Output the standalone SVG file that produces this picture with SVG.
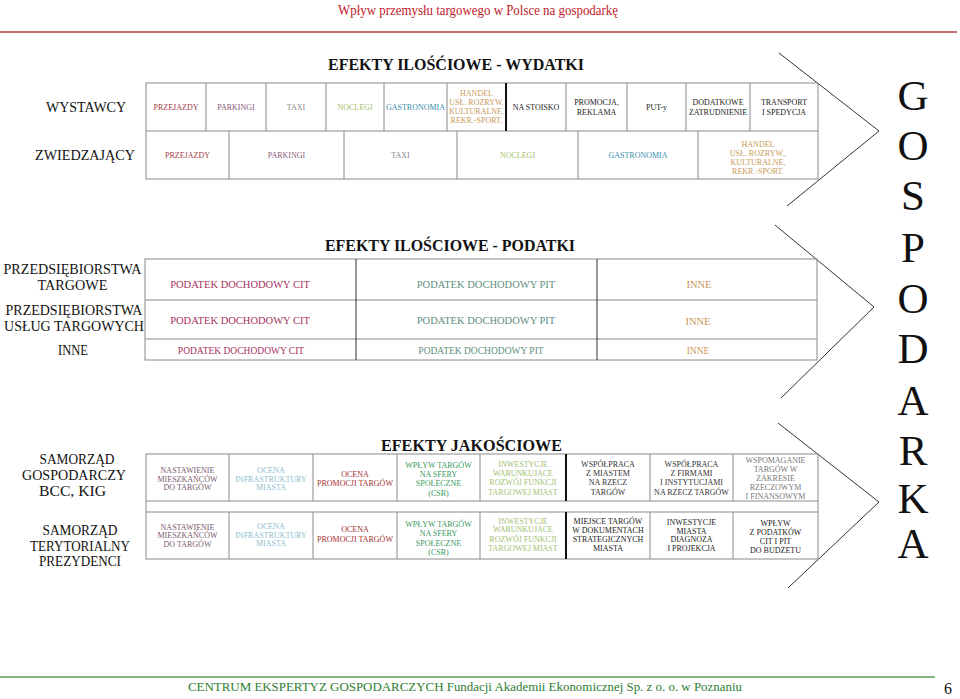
<svg xmlns="http://www.w3.org/2000/svg" width="960" height="699" viewBox="0 0 960 699">
<style>
text{font-family:"Liberation Serif","Times New Roman",serif;text-anchor:middle}
.hd{font-size:14px;fill:#c0202a}
.ft{font-size:13px;fill:#2e7d32}
.tt{font-size:16px;font-weight:bold;fill:#111}
.lb{font-size:14.5px;fill:#111}
.big{font-size:43px;fill:#111}
.c{font-size:8px}
.p{font-size:10.5px}
.grid{fill:none;stroke:#8a8a8a;stroke-width:1}
.gl{stroke:#8a8a8a;stroke-width:1}
.dk{stroke:#333;stroke-width:1}
.thick{stroke:#111;stroke-width:2}
.chev{fill:none;stroke:#333;stroke-width:1}
.mar{fill:#a33a45}.mau{fill:#8a5a7a}.gry{fill:#888}.lgr{fill:#9fbf68}.tea{fill:#3a90b0}.tan{fill:#c89a5a}.blk{fill:#222}
.cit{fill:#a8325e}.pit{fill:#5e9080}.inn{fill:#c8965a}
.nas{fill:#7a5a6e}.inf{fill:#8ec0d0}.opr{fill:#a03030}.csr{fill:#3a9a60}.inw{fill:#a0c070}.dg{fill:#333}.mg{fill:#777}
</style>
<defs>
<polyline id="chevron" class="chev" points="0,0 100,78 8,153"/>
</defs>

<g id="header">
<text class="hd" x="478" y="14.5" textLength="280" lengthAdjust="spacingAndGlyphs">Wpływ przemysłu targowego w Polsce na gospodarkę</text>
<line x1="0" y1="32" x2="957" y2="32" stroke="#c87070" stroke-width="2"/>
</g>

<g id="footer">
<line x1="0" y1="677" x2="935" y2="677" stroke="#5a9a5a" stroke-width="1.5"/>
<text class="ft" x="465" y="691" textLength="554" lengthAdjust="spacingAndGlyphs">CENTRUM EKSPERTYZ GOSPODARCZYCH Fundacji Akademii Ekonomicznej Sp. z o. o. w Poznaniu</text>
<text x="948" y="694" style="font-size:16px;fill:#111">6</text>
</g>

<g id="titles">
<text class="tt" x="456" y="70" textLength="256" lengthAdjust="spacingAndGlyphs">EFEKTY ILOŚĆIOWE - WYDATKI</text>
<text class="tt" x="450" y="250.5" textLength="250" lengthAdjust="spacingAndGlyphs">EFEKTY ILOŚCIOWE - PODATKI</text>
<text class="tt" x="471.5" y="450.5" textLength="181" lengthAdjust="spacingAndGlyphs">EFEKTY  JAKOŚCIOWE</text>
</g>

<g id="labels">
<g id="lbl-wystawcy"><text class="lb" x="86" y="112" textLength="80" lengthAdjust="spacingAndGlyphs">WYSTAWCY</text></g>
<g id="lbl-zwiedzajacy"><text class="lb" x="85" y="160" textLength="100" lengthAdjust="spacingAndGlyphs">ZWIEDZAJĄCY</text></g>
<g id="lbl-targowe"><text class="lb" x="72.5" y="273.5" textLength="138" lengthAdjust="spacingAndGlyphs">PRZEDSIĘBIORSTWA</text><text class="lb" x="72.5" y="289.5" textLength="70" lengthAdjust="spacingAndGlyphs">TARGOWE</text></g>
<g id="lbl-uslug"><text class="lb" x="74" y="314.5" textLength="137" lengthAdjust="spacingAndGlyphs">PRZEDSIĘBIORSTWA</text><text class="lb" x="74" y="330.5" textLength="140" lengthAdjust="spacingAndGlyphs">USŁUG TARGOWYCH</text></g>
<g id="lbl-inne"><text class="lb" x="73" y="355" textLength="30" lengthAdjust="spacingAndGlyphs">INNE</text></g>
<g id="lbl-samgosp"><text class="lb" x="77" y="463.5" textLength="75" lengthAdjust="spacingAndGlyphs">SAMORZĄD</text><text class="lb" x="74" y="479.5" textLength="104" lengthAdjust="spacingAndGlyphs">GOSPODARCZY</text><text class="lb" x="72.5" y="495.5" textLength="67" lengthAdjust="spacingAndGlyphs">BCC, KIG</text></g>
<g id="lbl-samter"><text class="lb" x="80" y="534.5" textLength="75" lengthAdjust="spacingAndGlyphs">SAMORZĄD</text><text class="lb" x="80" y="550.5" textLength="100" lengthAdjust="spacingAndGlyphs">TERYTORIALNY</text><text class="lb" x="80" y="566" textLength="82" lengthAdjust="spacingAndGlyphs">PREZYDENCI</text></g>
</g>

<g id="gospodarka">
<text class="big" x="913" y="110">G</text>
<text class="big" x="913" y="159.5">O</text>
<text class="big" x="913" y="209.5">S</text>
<text class="big" x="913" y="261.5">P</text>
<text class="big" x="913" y="312.5">O</text>
<text class="big" x="913" y="363">D</text>
<text class="big" x="913" y="415">A</text>
<text class="big" x="913" y="465">R</text>
<text class="big" x="913" y="513">K</text>
<text class="big" x="913" y="558">A</text>
</g>

<g id="connectors">
<use href="#chevron" transform="translate(779,53)"/>
<polyline class="chev" points="775,225 874,307 781,398"/>
<polyline class="chev" points="778,423 879,502 788,588"/>
</g>

<g id="table-wydatki">
<rect class="grid" x="146" y="83" width="672" height="96"/>
<line class="gl" x1="146" y1="131" x2="818" y2="131"/>
<g class="gl">
<line x1="206" y1="83" x2="206" y2="131"/><line x1="266" y1="83" x2="266" y2="131"/><line x1="326" y1="83" x2="326" y2="131"/><line x1="384" y1="83" x2="384" y2="131"/><line x1="447" y1="83" x2="447" y2="131"/><line x1="566" y1="83" x2="566" y2="131"/><line x1="627" y1="83" x2="627" y2="131"/><line x1="686" y1="83" x2="686" y2="131"/><line x1="750" y1="83" x2="750" y2="131"/>
<line x1="229" y1="131" x2="229" y2="179"/><line x1="344" y1="131" x2="344" y2="179"/><line x1="457" y1="131" x2="457" y2="179"/><line x1="578" y1="131" x2="578" y2="179"/><line x1="698" y1="131" x2="698" y2="179"/>
</g>
<line class="thick" x1="506" y1="83" x2="506" y2="131"/>
<g id="w-przejazdy"><text class="c mar" x="176" y="110">PRZEJAZDY</text></g>
<g id="w-parkingi"><text class="c mau" x="236" y="110">PARKINGI</text></g>
<g id="w-taxi"><text class="c gry" x="296" y="110">TAXI</text></g>
<g id="w-noclegi"><text class="c lgr" x="355" y="110">NOCLEGI</text></g>
<g id="w-gastronomia"><text class="c tea" x="415.5" y="110">GASTRONOMIA</text></g>
<g id="w-handel"><text class="c tan" x="476.5"><tspan x="476.5" y="96">HANDEL</tspan><tspan x="476.5" y="105">USŁ. ROZRYW.</tspan><tspan x="476.5" y="114">KULTURALNE.</tspan><tspan x="476.5" y="123">REKR.-SPORT.</tspan></text></g>
<g id="w-stoisko"><text class="c blk" x="536" y="110">NA STOISKO</text></g>
<g id="w-promocja"><text class="c blk"><tspan x="596.5" y="105">PROMOCJA,</tspan><tspan x="596.5" y="114.5">REKLAMA</tspan></text></g>
<g id="w-puty"><text class="c blk" x="656.5" y="110">PUT-y</text></g>
<g id="w-dodatkowe"><text class="c blk"><tspan x="718" y="105">DODATKOWE</tspan><tspan x="718" y="114.5">ZATRUDNIENIE</tspan></text></g>
<g id="w-transport"><text class="c blk"><tspan x="784" y="105">TRANSPORT</tspan><tspan x="784" y="114.5">I SPEDYCJA</tspan></text></g>
<g id="z-przejazdy"><text class="c mar" x="187.5" y="158">PRZEJAZDY</text></g>
<g id="z-parkingi"><text class="c mau" x="286.5" y="158">PARKINGI</text></g>
<g id="z-taxi"><text class="c gry" x="400.5" y="158">TAXI</text></g>
<g id="z-noclegi"><text class="c lgr" x="517.5" y="158">NOCLEGI</text></g>
<g id="z-gastronomia"><text class="c tea" x="638" y="158">GASTRONOMIA</text></g>
<g id="z-handel"><text class="c tan"><tspan x="758" y="147">HANDEL</tspan><tspan x="758" y="156">USŁ. ROZRYW.,</tspan><tspan x="758" y="165">KULTURALNE,</tspan><tspan x="758" y="174">REKR.-SPORT.</tspan></text></g>
</g>

<g id="table-podatki">
<rect class="grid" x="145" y="259" width="672" height="101"/>
<line class="gl" x1="145" y1="300" x2="817" y2="300"/>
<line class="gl" x1="145" y1="339" x2="817" y2="339"/>
<line class="dk" x1="356" y1="259" x2="356" y2="360"/>
<line class="dk" x1="597" y1="259" x2="597" y2="360"/>
<g id="pt-cit"><text class="p cit" x="240" y="288">PODATEK DOCHODOWY CIT</text></g>
<g id="pt-pit"><text class="p pit" x="486" y="288">PODATEK DOCHODOWY PIT</text></g>
<g id="pt-inne"><text class="p inn" x="699" y="288">INNE</text></g>
<g id="pu-cit"><text class="p cit" x="240" y="324">PODATEK DOCHODOWY CIT</text></g>
<g id="pu-pit"><text class="p pit" x="486" y="324">PODATEK DOCHODOWY PIT</text></g>
<g id="pu-inne"><text class="p inn" x="698" y="325">INNE</text></g>
<g id="pi-cit"><text class="p cit" x="241" y="354" style="font-size:9.5px">PODATEK DOCHODOWY CIT</text></g>
<g id="pi-pit"><text class="p pit" x="481" y="354" style="font-size:9.5px">PODATEK DOCHODOWY PIT</text></g>
<g id="pi-inne"><text class="p inn" x="698" y="354" style="font-size:9.5px">INNE</text></g>
</g>

<g id="table-jakosciowe">
<rect class="grid" x="146" y="454" width="672" height="105"/>
<line class="gl" x1="146" y1="501" x2="818" y2="501"/>
<line class="gl" x1="146" y1="512" x2="818" y2="512"/>
<g class="gl">
<line x1="229" y1="454" x2="229" y2="501"/><line x1="313" y1="454" x2="313" y2="501"/><line x1="397" y1="454" x2="397" y2="501"/><line x1="480" y1="454" x2="480" y2="501"/><line x1="650" y1="454" x2="650" y2="501"/><line x1="733" y1="454" x2="733" y2="501"/>
<line x1="229" y1="512" x2="229" y2="559"/><line x1="313" y1="512" x2="313" y2="559"/><line x1="397" y1="512" x2="397" y2="559"/><line x1="480" y1="512" x2="480" y2="559"/><line x1="650" y1="512" x2="650" y2="559"/><line x1="733" y1="512" x2="733" y2="559"/>
</g>
<line class="thick" x1="566" y1="454" x2="566" y2="501"/>
<line class="thick" x1="566" y1="512" x2="566" y2="559"/>

<g id="g-nastawienie"><text class="c nas"><tspan x="187.5" y="473">NASTAWIENIE</tspan><tspan x="187.5" y="481.7">MIESZKAŃCÓW</tspan><tspan x="187.5" y="490.3">DO TARGÓW</tspan></text></g>
<g id="g-infra"><text class="c inf"><tspan x="271" y="473">OCENA</tspan><tspan x="271" y="481.7">INFRASTRUKTURY</tspan><tspan x="271" y="490.3">MIASTA</tspan></text></g>
<g id="g-promocji"><text class="c opr"><tspan x="355" y="477.3">OCENA</tspan><tspan x="355" y="486.3">PROMOCJI TARGÓW</tspan></text></g>
<g id="g-csr"><text class="c csr"><tspan x="438.5" y="468">WPŁYW TARGÓW</tspan><tspan x="438.5" y="477.3">NA SFERY</tspan><tspan x="438.5" y="486.3">SPOŁECZNE</tspan><tspan x="438.5" y="495.7">(CSR)</tspan></text></g>
<g id="g-inwestycje"><text class="c inw"><tspan x="523" y="467.3">INWESTYCJE</tspan><tspan x="523" y="476.3">WARUNKUJACE</tspan><tspan x="523" y="485.3">ROZWÓJ FUNKCJI</tspan><tspan x="523" y="494.7">TARGOWEJ MIAST</tspan></text></g>
<g id="g-wspmiasto"><text class="c dg"><tspan x="608" y="467.3">WSPÓŁPRACA</tspan><tspan x="608" y="476.3">Z MIASTEM</tspan><tspan x="608" y="485.3">NA RZECZ</tspan><tspan x="608" y="494.7">TARGÓW</tspan></text></g>
<g id="g-wspfirmy"><text class="c dg"><tspan x="691.5" y="467.3">WSPÓŁPRACA</tspan><tspan x="691.5" y="476.3">Z FIRMAMI</tspan><tspan x="691.5" y="485.3">I INSTYTUCJAMI</tspan><tspan x="691.5" y="494.7">NA RZECZ TARGÓW</tspan></text></g>
<g id="g-wspomaganie"><text class="c mg"><tspan x="775.5" y="463">WSPOMAGANIE</tspan><tspan x="775.5" y="472">TARGÓW W</tspan><tspan x="775.5" y="481">ZAKRESIE</tspan><tspan x="775.5" y="490">RZECZOWYM</tspan><tspan x="775.5" y="499">I FINANSOWYM</tspan></text></g>

<g id="t-nastawienie"><text class="c nas"><tspan x="187.5" y="529.7">NASTAWIENIE</tspan><tspan x="187.5" y="538.3">MIESZKAŃCÓW</tspan><tspan x="187.5" y="547.3">DO TARGÓW</tspan></text></g>
<g id="t-infra"><text class="c inf"><tspan x="271" y="528.7">OCENA</tspan><tspan x="271" y="537.7">INFRASTRUKTURY</tspan><tspan x="271" y="546.3">MIASTA</tspan></text></g>
<g id="t-promocji"><text class="c opr"><tspan x="355" y="532.3">OCENA</tspan><tspan x="355" y="541.7">PROMOCJI TARGÓW</tspan></text></g>
<g id="t-csr"><text class="c csr"><tspan x="438.5" y="527.3">WPŁYW TARGÓW</tspan><tspan x="438.5" y="536.3">NA SFERY</tspan><tspan x="438.5" y="545.7">SPOŁECZNE</tspan><tspan x="438.5" y="554.7">(CSR)</tspan></text></g>
<g id="t-inwestycje"><text class="c inw"><tspan x="523" y="523.7">INWESTYCJE</tspan><tspan x="523" y="532.3">WARUNKUJACE</tspan><tspan x="523" y="541.7">ROZWÓJ FUNKCJI</tspan><tspan x="523" y="550.7">TARGOWEJ MIAST</tspan></text></g>
<g id="t-miejsce"><text class="c blk"><tspan x="608" y="524.3">MIEJSCE TARGÓW</tspan><tspan x="608" y="533">W DOKUMENTACH</tspan><tspan x="608" y="542">STRATEGICZNYCH</tspan><tspan x="608" y="551.3">MIASTA</tspan></text></g>
<g id="t-inwmiasta"><text class="c blk"><tspan x="691.5" y="525">INWESTYCJE</tspan><tspan x="691.5" y="533.7">MIASTA</tspan><tspan x="691.5" y="542.3">DIAGNOZA</tspan><tspan x="691.5" y="551.3">I PROJEKCJA</tspan></text></g>
<g id="t-wplyw"><text class="c blk"><tspan x="775.5" y="525.7">WPŁYW</tspan><tspan x="775.5" y="534.7">Z PODATKÓW</tspan><tspan x="775.5" y="543.7">CIT I PIT</tspan><tspan x="775.5" y="553">DO BUDŻETU</tspan></text></g>
</g>
</svg>
